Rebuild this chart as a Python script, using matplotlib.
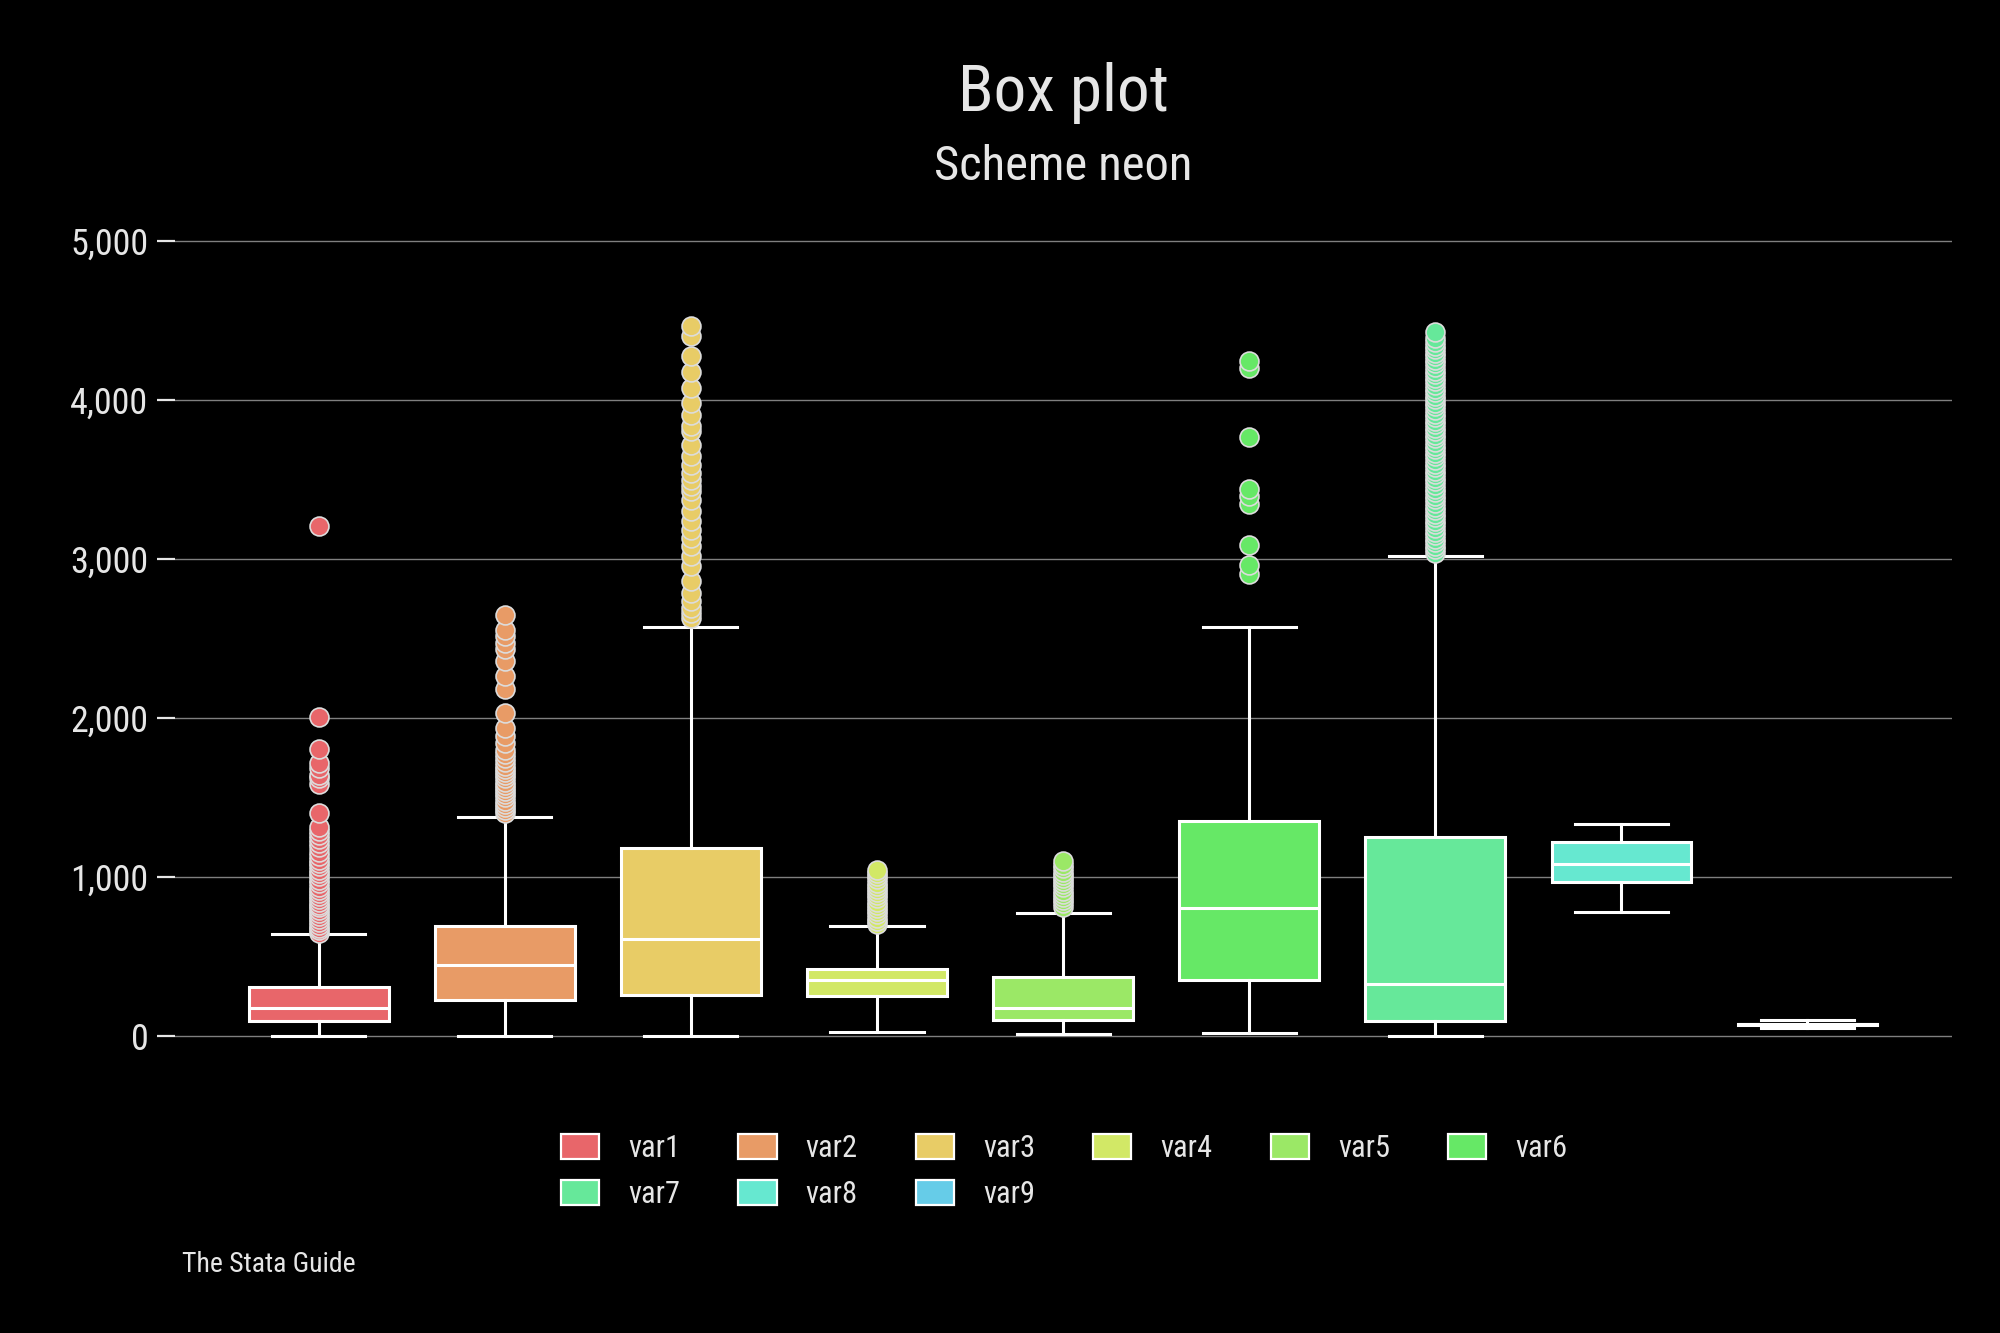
import numpy as np
import matplotlib.pyplot as plt
from matplotlib.patches import Patch

# ==== Fonts / style ==== #
plt.rcParams['font.family'] = ['Liberation Sans Narrow', 'Roboto Condensed',
                               'Open Sans Condensed', 'DejaVu Sans']
plt.rcParams['font.stretch'] = 'condensed'
plt.rcParams['font.size'] = 12

BG = '#000000'
TXT = '#E6E6E6'
GRID = '#7F7F7F'

# ==== Data ==== #
labels = ['var1', 'var2', 'var3', 'var4', 'var5', 'var6', 'var7', 'var8', 'var9']
colors = ['#E8666A', '#E89B66', '#E8CC66', '#D2E866', '#9BE866',
          '#66E866', '#66E89A', '#66E8D0', '#66CCE8']

whislo = [0, 0, 0, 25, 13, 17, 0, 778, 48]
q1 = [96, 223, 255, 250, 103, 352, 97, 971, 70]
med = [177, 445, 609, 351, 178, 804, 327, 1083, 73]
q3 = [306, 691, 1180, 422, 373, 1349, 1250, 1220, 77]
whishi = [640, 1379, 2572, 692, 772, 2572, 3016, 1332, 98]

fliers_var1 = [646, 664, 682, 700, 718, 736, 754, 772, 790, 808, 826, 844,
               862, 880, 898, 916, 940, 961, 982, 1003, 1024, 1045, 1066, 1087,
               1108, 1134, 1160, 1187, 1213, 1239, 1265, 1291, 1317, 1402, 1585,
               1622, 1644, 1685, 1717, 1806, 2008, 3208]
fliers_var2 = [1401, 1420, 1440, 1460, 1480, 1500, 1520, 1540, 1560, 1580, 1600,
               1620, 1640, 1660, 1680, 1700, 1725, 1750, 1775, 1800, 1842,
               1884, 1936, 2031, 2182, 2261, 2360, 2434, 2471, 2513, 2555, 2650]
fliers_var3 = [2629, 2660, 2692, 2733, 2786, 2859, 2953, 3016, 3079, 3132, 3184,
               3237, 3300, 3373, 3425, 3457, 3499, 3541, 3594, 3646, 3719, 3803,
               3835, 3908, 3982, 4076, 4175, 4275, 4405, 4468]
fliers_var4 = [705, 725, 745, 765, 785, 805, 825, 845, 865, 885, 905, 925, 945,
               965, 985, 1005, 1025, 1045]
fliers_var5 = [814, 834, 854, 874, 894, 914, 934, 954, 974, 994, 1014, 1034,
               1056, 1078, 1103]
fliers_var6 = [2907, 2960, 3086, 3348, 3394, 3442, 3765, 4202, 4248]
fliers_var7 = [3038, 3060, 3082, 3105, 3128, 3150, 3172, 3195, 3218, 3240, 3262,
               3285, 3308, 3330, 3352, 3375, 3398, 3420, 3442, 3465, 3488, 3510,
               3532, 3555, 3578, 3600, 3622, 3645, 3668, 3690, 3712, 3735, 3758,
               3780, 3802, 3825, 3848, 3870, 3892, 3915, 3938, 3960, 3982, 4005,
               4028, 4050, 4072, 4095, 4118, 4140, 4162, 4185, 4208, 4230, 4252,
               4275, 4298, 4320, 4342, 4365, 4390, 4428]
fliers = [fliers_var1, fliers_var2, fliers_var3, fliers_var4, fliers_var5,
          fliers_var6, fliers_var7, [], []]

yticks = [0, 1000, 2000, 3000, 4000, 5000]
ytick_labels = ['0', '1,000', '2,000', '3,000', '4,000', '5,000']

# ==== Figure ==== #
fig = plt.figure(figsize=(10, 6.665), dpi=200, facecolor=BG)
ax = fig.add_axes([0.08735, 0.20495, 0.8884, 0.62618], facecolor=BG)

positions = np.arange(1, len(labels) + 1)
stats = []
for i in range(len(labels)):
    stats.append(dict(whislo=whislo[i], q1=q1[i], med=med[i], q3=q3[i],
                      whishi=whishi[i], fliers=fliers[i], label=labels[i]))

line_kw = dict(color='white', linewidth=1.1)
bp = ax.bxp(stats, positions=positions, widths=0.75, capwidths=0.5,
            patch_artist=True, showfliers=True,
            boxprops=dict(edgecolor='white', linewidth=1.1),
            medianprops=line_kw, whiskerprops=line_kw, capprops=line_kw,
            flierprops=dict(marker='o', markersize=6.8, markeredgewidth=0.6,
                            markeredgecolor='#DCDCDC', linestyle='none'))

for i, box in enumerate(bp['boxes']):
    box.set_facecolor(colors[i])
    box.set_zorder(2)
for i, fl in enumerate(bp['fliers']):
    fl.set_markerfacecolor(colors[i])
    fl.set_zorder(3)

ax.set_xlim(0.226, 9.774)
ax.set_ylim(-150, 5100)
ax.set_yticks(yticks)
ax.set_yticklabels(ytick_labels)
ax.set_xticks([])
ax.tick_params(axis='y', colors=TXT, labelsize=13, length=6.5, width=0.8, pad=3)
ax.yaxis.grid(True, color=GRID, linewidth=0.5)
ax.set_axisbelow(True)
for sp in ax.spines.values():
    sp.set_visible(False)

# ==== Titles ==== #
xc = 0.08735 + 0.8884 / 2
fig.text(xc, 1 - 111 / 1333, 'Box plot', ha='center', va='baseline',
         color=TXT, fontsize=23.5)
fig.text(xc, 1 - 180 / 1333, 'Scheme neon', ha='center', va='baseline',
         color=TXT, fontsize=17.5)
fig.text(0.091, 1 - 1272 / 1333, 'The Stata Guide', ha='left', va='baseline',
         color=TXT, fontsize=10)

# ==== Legend (row-major order: var1..var6, then var7..var9) ==== #
order = [0, 6, 1, 7, 2, 8, 3, 4, 5]
handles = [Patch(facecolor=colors[i], edgecolor='white', linewidth=0.8) for i in order]
fig.legend(handles, [labels[i] for i in order], loc='upper left',
           bbox_to_anchor=(561 / 2000, 1 - 1134 / 1333),
           ncol=6, frameon=False, fontsize=11, labelcolor=TXT,
           handlelength=1.25, handleheight=0.9, handletextpad=0.95,
           columnspacing=1.9, labelspacing=0.55, borderpad=0, borderaxespad=0)

fig.savefig('out.png', dpi=200, facecolor=BG)
